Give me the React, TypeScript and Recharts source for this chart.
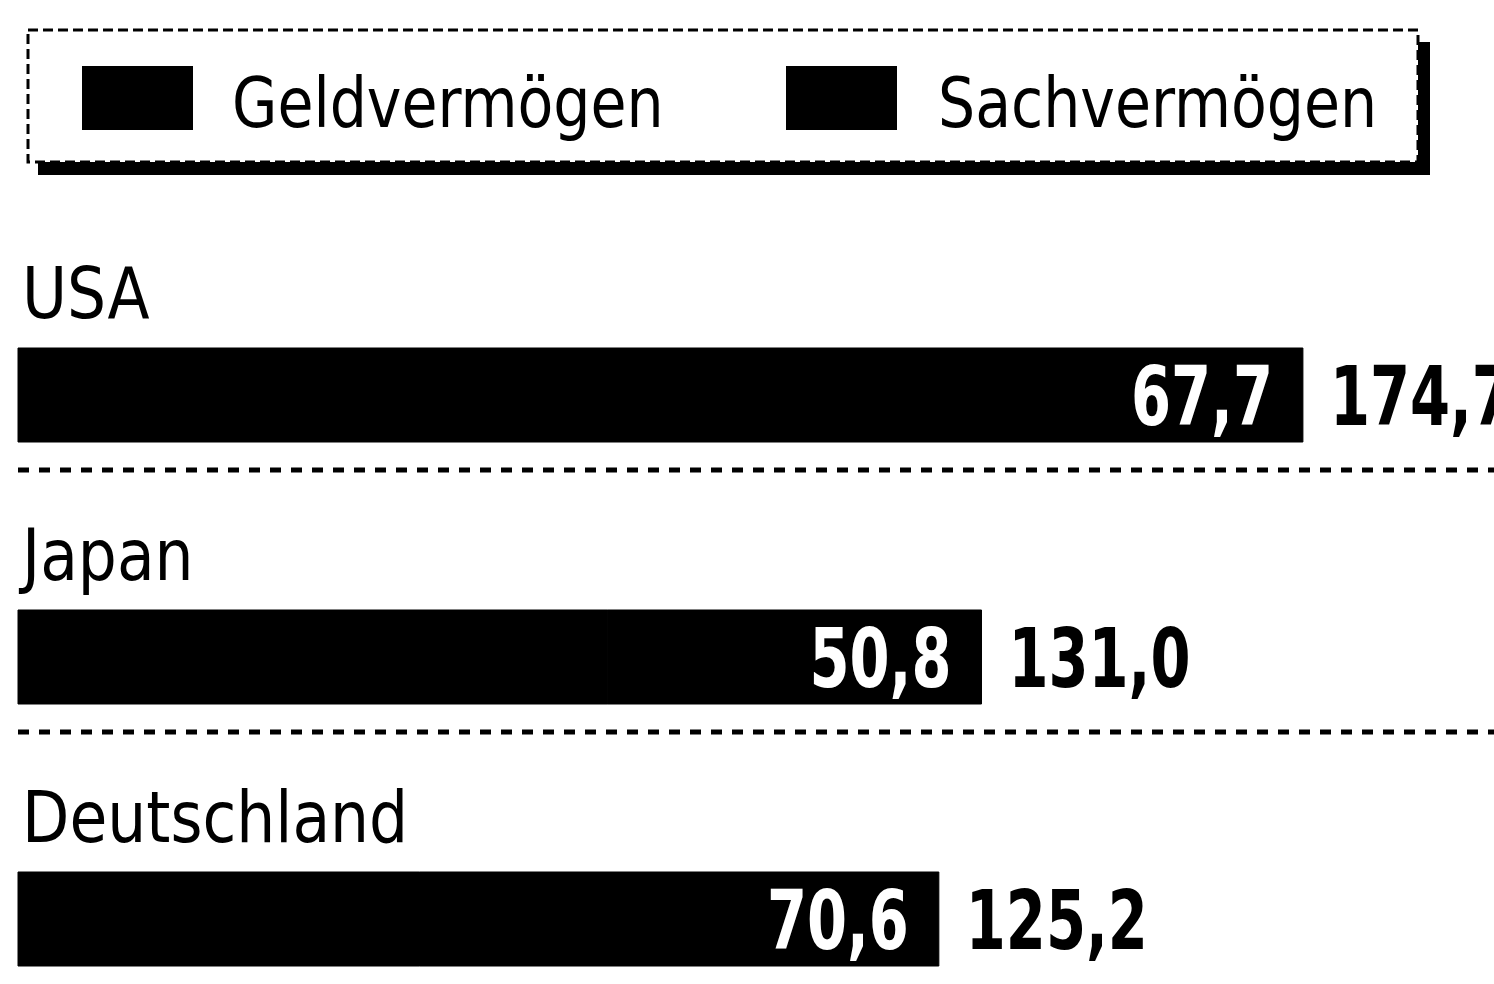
import React from 'react';
import { BarChart, Bar, XAxis, YAxis, Legend, LabelList } from 'recharts';

const countries = ['USA', 'Japan', 'Deutschland'];
const geldvermoegen = [67.7, 50.8, 70.6];
const sachvermoegen = [107.0, 80.2, 54.6];
const gesamt = [174.7, 131.0, 125.2];
const seriesNames = ['Geldvermögen', 'Sachvermögen'];

const data = countries.map((land, i) => ({
  land,
  geld: geldvermoegen[i],
  sach: sachvermoegen[i],
  gesamt: gesamt[i],
}));

const FONT = "'DejaVu Sans Condensed', 'Liberation Sans Narrow', sans-serif";
const fmt = (v: number) => v.toFixed(1).replace('.', ',');

// svg text squeezed horizontally, the original typeface is narrower than anything installed
function NarrowText({ x, y, sx, children, ...rest }: any) {
  return (
    <text transform={`translate(${x} ${y}) scale(${sx} 1)`} fontFamily={FONT} {...rest}>
      {children}
    </text>
  );
}

const CountryLabel = (props: any) => {
  const { x, y, height, value, index } = props;
  const isLast = index === countries.length - 1;
  return (
    <g>
      <NarrowText x={x + 4} y={y - 30} sx={0.95} fontSize={72} fill="#000">{value}</NarrowText>
      {!isLast && (
        <line x1={x} x2={1494} y1={y + height + 28} y2={y + height + 28}
          stroke="#000" strokeWidth={5} strokeDasharray="11 10" />
      )}
    </g>
  );
};

const InnerLabel = (props: any) => {
  const { x, y, width, height, value } = props;
  return (
    <NarrowText x={x + width - 30} y={y + height / 2 + 30} sx={0.78} textAnchor="end" fill="#fff"
      fontWeight="bold" fontSize={82}>
      {fmt(value)}
    </NarrowText>
  );
};

const TotalLabel = (props: any) => {
  const { x, y, width, height, value } = props;
  return (
    <NarrowText x={x + width + 27} y={y + height / 2 + 30} sx={0.78} textAnchor="start" fill="#000"
      fontWeight="bold" fontSize={82}>
      {fmt(value)}
    </NarrowText>
  );
};

function LegendBox() {
  return (
    <svg width={1494} height={184} style={{ display: 'block' }}>
      <rect x={38} y={42} width={1392} height={133} fill="#000" />
      <rect x={28} y={30} width={1390} height={132} fill="#fff" stroke="#000" strokeWidth={3} strokeDasharray="10 5" />
      {seriesNames.map((name, i) => (
        <g key={name}>
          <rect x={82 + i * 704} y={66} width={111} height={64} fill="#000" />
          <NarrowText x={232 + i * 706} y={127} sx={0.93} fontSize={70} fill="#000">{name}</NarrowText>
        </g>
      ))}
    </svg>
  );
}

export default function App() {
  return (
    <div style={{ width: 1494, height: 984, overflow: 'hidden', background: '#fff' }}>
      <style>{'body{margin:0}'}</style>
      <BarChart width={1494} height={1050} data={data} layout="vertical"
        margin={{ top: 264, right: 5, bottom: 0, left: 18 }} barSize={94}>
        <XAxis type="number" domain={[0, 200]} hide />
        <YAxis type="category" dataKey="land" hide />
        <Legend layout="vertical" align="center" verticalAlign="middle"
          wrapperStyle={{ top: 0, left: 0, width: 1494 }} content={<LegendBox />} />
        <Bar dataKey="sach" stackId="a" fill="#000" stroke="#000" strokeWidth={1} isAnimationActive={false}>
          <LabelList dataKey="land" content={<CountryLabel />} />
        </Bar>
        <Bar dataKey="geld" stackId="a" fill="#000" stroke="#000" strokeWidth={1} isAnimationActive={false}>
          <LabelList dataKey="geld" content={<InnerLabel />} />
          <LabelList dataKey="gesamt" content={<TotalLabel />} />
        </Bar>
      </BarChart>
    </div>
  );
}
